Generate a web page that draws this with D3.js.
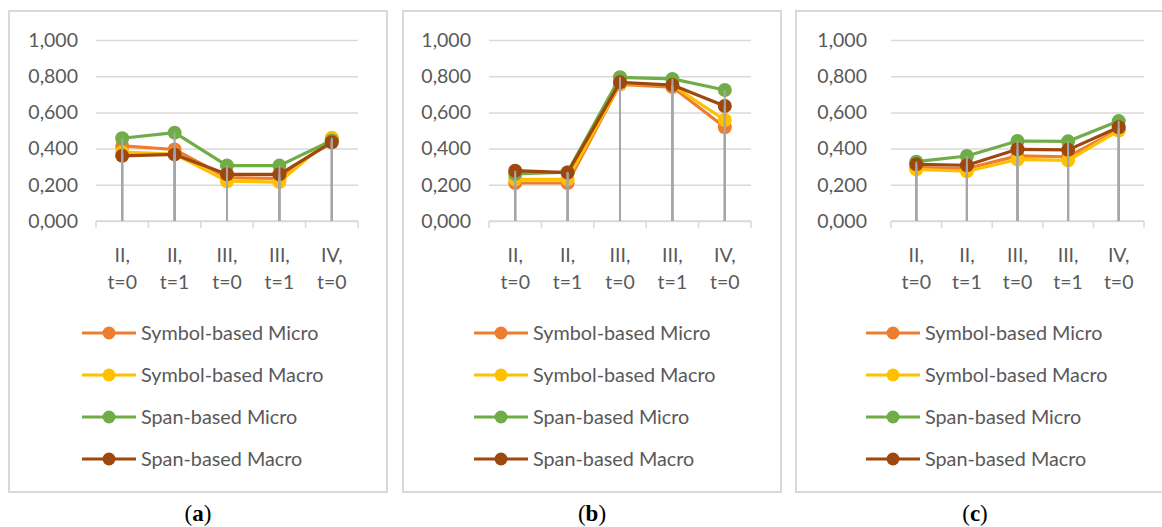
<!DOCTYPE html>
<html><head><meta charset="utf-8">
<script src="https://cdn.jsdelivr.net/npm/d3@7"></script>
<style>
body{margin:0;background:#fff;}
svg{display:block;font-family:"Lato","Open Sans",sans-serif;}
</style></head>
<body><svg id="c" width="1162" height="527"></svg>
<script>
// ---- data ----
const categories = [["II,","t=0"],["II,","t=1"],["III,","t=0"],["III,","t=1"],["IV,","t=0"]];
const seriesNames = ["Symbol-based Micro","Symbol-based Macro","Span-based Micro","Span-based Macro"];
const yTicks = [0,0.2,0.4,0.6,0.8,1.0];
const panelLabels = ["a","b","c"];
// panel (a)
const aSymbolMicro = [0.415,0.395,0.240,0.235,0.450];
const aSymbolMacro = [0.380,0.370,0.220,0.215,0.460];
const aSpanMicro   = [0.457,0.488,0.306,0.306,0.445];
const aSpanMacro   = [0.360,0.368,0.258,0.258,0.435];
// panel (b)
const bSymbolMicro = [0.210,0.210,0.755,0.740,0.518];
const bSymbolMacro = [0.230,0.230,0.760,0.750,0.558];
const bSpanMicro   = [0.260,0.270,0.794,0.785,0.724];
const bSpanMacro   = [0.278,0.267,0.766,0.751,0.635];
// panel (c)
const cSymbolMicro = [0.295,0.290,0.360,0.355,0.505];
const cSymbolMacro = [0.285,0.275,0.340,0.335,0.500];
const cSpanMicro   = [0.328,0.359,0.442,0.440,0.552];
const cSpanMacro   = [0.313,0.308,0.396,0.393,0.518];

const panelData = [
  [aSymbolMicro,aSymbolMacro,aSpanMicro,aSpanMacro],
  [bSymbolMicro,bSymbolMacro,bSpanMicro,bSpanMacro],
  [cSymbolMicro,cSymbolMacro,cSpanMicro,cSpanMacro]
];

// ---- layout / style ----
const colors = ["#ED7D31","#FFC000","#70AD47","#9E480E"];
const panels = [
  {fx0:9,  fx1:387, px0:96,  px1:358, lx:82,  lab:18},
  {fx0:403,fx1:781, px0:489, px1:751, lx:474, lab:18},
  {fx0:796,fx1:1170,px0:891, px1:1144,lx:866, lab:24}
];
const fy0 = 11, fy1 = 492;
const yTop = 40, yBot = 221;
const textColor = "#595959";
const fmt = v => d3.format(".3f")(v).replace(".", ",");

const svg = d3.select("#c");
svg.append("rect").attr("width",1162).attr("height",527).attr("fill","#fff");

panels.forEach((p,pi)=>{
  const g = svg.append("g");
  g.append("rect").attr("x",p.fx0).attr("y",fy0).attr("width",p.fx1-p.fx0).attr("height",fy1-fy0)
    .attr("fill","#fff").attr("stroke","#d9d9d9").attr("stroke-width",2);

  const y = d3.scaleLinear().domain([0,1]).range([yBot,yTop]);
  const x = d3.scaleBand().domain(d3.range(categories.length)).range([p.px0,p.px1]);
  const cx = i => x(i) + x.bandwidth()/2;

  const yAxis = d3.axisLeft(y).tickValues(yTicks).tickFormat(fmt).tickSize(-(p.px1-p.px0));
  const ya = g.append("g").attr("transform",`translate(${p.px0},0)`).call(yAxis);
  ya.select(".domain").remove();
  ya.selectAll(".tick line").attr("stroke","#d9d9d9").attr("stroke-width",1.5);
  ya.selectAll(".tick text").attr("x", -p.lab).attr("fill",textColor)
     .attr("font-size",19.5).attr("font-family","Lato, sans-serif");

  const xa = g.append("g").attr("transform",`translate(0,${yBot})`);
  xa.append("line").attr("x1",p.px0).attr("x2",p.px1).attr("stroke","#d9d9d9").attr("stroke-width",1.5);
  const edges = d3.range(categories.length+1).map(i => i<categories.length ? x(i) : p.px1);
  xa.selectAll("line.tk").data(edges).join("line").attr("class","tk")
    .attr("x1",d=>d).attr("x2",d=>d).attr("y1",0).attr("y2",7)
    .attr("stroke","#d9d9d9").attr("stroke-width",1.5);
  categories.forEach((c,i)=>{
    const t = xa.append("text").attr("x",cx(i)).attr("text-anchor","middle")
      .attr("fill",textColor).attr("font-size",19.5);
    t.append("tspan").attr("x",cx(i)).attr("y",41).text(c[0]);
    t.append("tspan").attr("x",cx(i)).attr("y",68).text(c[1]);
  });

  const data = panelData[pi];
  const line = d3.line().x((d,i)=>cx(i)).y(d=>y(d));
  data.forEach((s,si)=>{
    g.append("path").datum(s).attr("d",line).attr("fill","none")
      .attr("stroke",colors[si]).attr("stroke-width",3.2).attr("stroke-linejoin","round");
    g.selectAll(null).data(s).join("circle")
      .attr("cx",(d,i)=>cx(i)).attr("cy",d=>y(d)).attr("r",7).attr("fill",colors[si]);
  });
  data.forEach((s,si)=>{
    g.selectAll(null).data(s).join("line")
      .attr("x1",(d,i)=>cx(i)).attr("x2",(d,i)=>cx(i)).attr("y1",d=>y(d)).attr("y2",yBot)
      .attr("stroke","#a6a6a6").attr("stroke-width",2);
  });

  seriesNames.forEach((n,si)=>{
    const ly = 333 + si*42;
    g.append("line").attr("x1",p.lx).attr("x2",p.lx+54).attr("y1",ly).attr("y2",ly)
      .attr("stroke",colors[si]).attr("stroke-width",3.2);
    g.append("circle").attr("cx",p.lx+27).attr("cy",ly).attr("r",6.5).attr("fill",colors[si]);
    g.append("text").attr("x",p.lx+59).attr("y",ly).attr("dy","0.35em")
      .attr("fill",textColor).attr("font-size",19.8).text(n);
  });

  const cap = svg.append("text").attr("x",(p.fx0+Math.min(p.fx1,1162))/2 + (pi===2?-4:0)).attr("y",521)
    .attr("text-anchor","middle").attr("font-family","'Liberation Serif','DejaVu Serif',serif")
    .attr("font-size",23).attr("fill","#000");
  cap.append("tspan").text("(");
  cap.append("tspan").attr("font-weight","bold").text(panelLabels[pi]);
  cap.append("tspan").text(")");
});
</script></body></html>
